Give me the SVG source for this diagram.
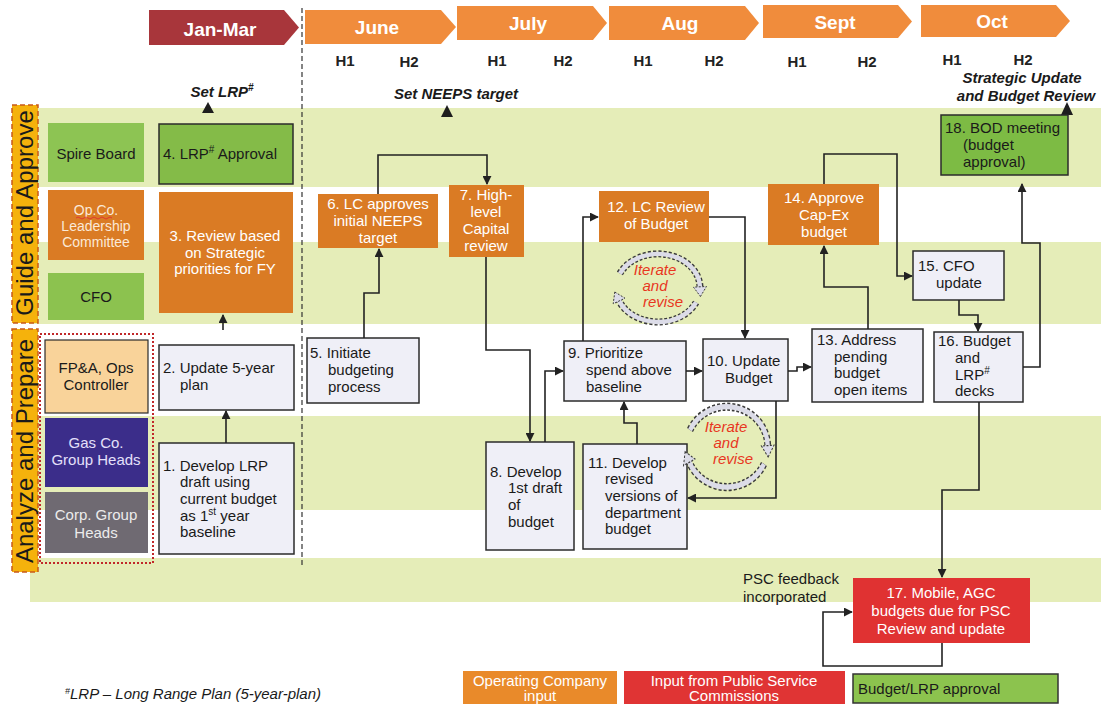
<svg xmlns="http://www.w3.org/2000/svg" width="1101" height="704" viewBox="0 0 1101 704">
<style>
.t{font-family:"Liberation Sans",Arial,sans-serif;font-size:15px;fill:#1a1a1a}
.w{fill:#ffffff}
.box{fill:#efeff7;stroke:#2b2b2b;stroke-width:1.5}
.org{fill:#da7b24}
.grn{fill:#8cc24e}
.band{fill:#e5edb8}
.lane{font-family:"Liberation Sans",Arial,sans-serif;font-size:24px;fill:#1a1a1a;text-anchor:middle}
.mon{font-family:"Liberation Sans",Arial,sans-serif;font-size:19px;font-weight:bold;fill:#fff;text-anchor:middle}
.h{font-family:"Liberation Sans",Arial,sans-serif;font-size:15px;font-weight:bold;fill:#222;text-anchor:middle}
.bi{font-family:"Liberation Sans",Arial,sans-serif;font-size:15px;font-weight:bold;font-style:italic;fill:#1a1a1a;text-anchor:middle}
.it{font-family:"Liberation Sans",Arial,sans-serif;font-size:15px;font-style:italic;fill:#e8361e;text-anchor:middle}
.foot{font-family:"Liberation Sans",Arial,sans-serif;font-size:15px;font-style:italic;fill:#1a1a1a}
.opc{font-family:"Liberation Sans",Arial,sans-serif;font-size:14px;fill:#fbe9d7;text-anchor:middle}
.mid{text-anchor:middle}
.conn path{fill:none;stroke:#222;stroke-width:1.6;marker-end:url(#ah)}
.tri{fill:#1e1e1e}
.iband1{fill:none;stroke:#3a3a3a;stroke-width:7;stroke-dasharray:3 2}
.iband2{fill:none;stroke:#dcdce8;stroke-width:4.4}
.ihead{fill:#dcdce8;stroke:#3a3a3a;stroke-width:1;stroke-dasharray:2 1.5}
</style>
<defs>
<marker id="ah" viewBox="0 0 10 10" refX="9" refY="5" markerWidth="9" markerHeight="9" markerUnits="userSpaceOnUse" orient="auto"><path d="M0,0 L10,5 L0,10 z" fill="#222"/></marker>
<g id="iter">
<path class="iband1" d="M-38.1,-14.4 A42,34 0 0,1 42,-1.2"/>
<path class="iband2" d="M-38.1,-14.4 A42,34 0 0,1 42,-1.2"/>
<polygon class="ihead" points="42.4,8.5 48.5,-1.5 35.5,-0.9"/>
<path class="iband1" d="M38.1,14.4 A42,34 0 0,1 -38.9,12.7"/>
<path class="iband2" d="M38.1,14.4 A42,34 0 0,1 -38.9,12.7"/>
<polygon class="ihead" points="-43.2,4 -33,10.2 -44.8,15.8"/>
</g>
</defs>
<rect width="1101" height="704" fill="#ffffff"/>
<g id="bands">
<rect class="band" x="30" y="108" width="1071" height="79"/>
<rect class="band" x="30" y="242" width="1071" height="82"/>
<rect class="band" x="30" y="416" width="1071" height="94"/>
<rect class="band" x="30" y="558" width="1071" height="44"/>
</g>
<g id="header">
<path d="M149,10 H284 L299,27.5 L284,45 H149 Z" fill="#a8363b"/>
<text class="mon" x="220" y="36">Jan-Mar</text>
<path d="M305,10 H441 L456,27 L441,44 H305 Z" fill="#f08c3c"/>
<text class="mon" x="377" y="34">June</text>
<path d="M457,6 H593 L607,23 L593,40 H457 Z" fill="#f08c3c"/>
<text class="mon" x="528" y="30">July</text>
<path d="M609,6 H745 L759,23 L745,40 H609 Z" fill="#f08c3c"/>
<text class="mon" x="680" y="30">Aug</text>
<path d="M763,5 H898 L912,21.5 L898,38 H763 Z" fill="#f08c3c"/>
<text class="mon" x="835" y="29">Sept</text>
<path d="M921,5 H1056 L1070,21 L1056,37 H921 Z" fill="#f08c3c"/>
<text class="mon" x="992" y="28">Oct</text>
<text class="h" x="345" y="66">H1</text><text class="h" x="409" y="67">H2</text>
<text class="h" x="497" y="66">H1</text><text class="h" x="563" y="66">H2</text>
<text class="h" x="643" y="66">H1</text><text class="h" x="714" y="66">H2</text>
<text class="h" x="797" y="67">H1</text><text class="h" x="867" y="67">H2</text>
<text class="h" x="952" y="65">H1</text><text class="h" x="1023" y="65">H2</text>
<line x1="302" y1="8" x2="302" y2="566" stroke="#333" stroke-width="1.2" stroke-dasharray="5 3"/>
</g>
<g id="milestones">
<text class="bi" x="222" y="97">Set LRP<tspan font-size="10" dy="-6">#</tspan></text>
<polygon class="tri" points="202,113 214,113 208,102"/>
<text class="bi" x="456" y="99">Set NEEPS target</text>
<polygon class="tri" points="441,117 453,117 447,105"/>
<text class="bi" x="1022" y="83">Strategic Update</text>
<text class="bi" x="1026" y="101">and Budget Review</text>
<polygon class="tri" points="1061,115 1073,115 1067,102"/>
</g>
<g id="lane-guide">
<rect x="12" y="105" width="26" height="218" fill="#f5b20c" stroke="#c85a1a" stroke-width="1.5" stroke-dasharray="5 3"/>
<text class="lane" transform="translate(33,213) rotate(-90)">Guide and Approve</text>
</g>
<g id="lane-analyze">
<rect x="12" y="329" width="26" height="243" fill="#f5b20c" stroke="#c85a1a" stroke-width="1.5" stroke-dasharray="5 3"/>
<text class="lane" transform="translate(33,451) rotate(-90)">Analyze and Prepare</text>
</g>
<g id="spire-board">
<rect x="48" y="123" width="96" height="59" fill="#8dc453"/>
<text class="t mid" x="96" y="159">Spire Board</text>
</g>
<g id="opco-lc">
<rect x="48" y="190" width="96" height="70" class="org"/>
<text class="opc" x="96" y="215">Op.Co.</text>
<path d="M76,218 q2,-2 4,0 t4,0 t4,0 t4,0 t4,0 t4,0 t4,0 t4,0 t4,0" fill="none" stroke="#e03030" stroke-width="0.9"/>
<text class="opc" x="96" y="231">Leadership</text>
<text class="opc" x="96" y="247">Committee</text>
</g>
<g id="cfo">
<rect x="48" y="273" width="96" height="47" fill="#8cc24f"/>
<text class="t mid" x="96" y="302">CFO</text>
</g>
<g id="prepare-actors">
<rect x="40" y="334" width="113" height="229" fill="none" stroke="#c0282a" stroke-width="2" stroke-dasharray="2 2"/>
<rect x="45" y="340" width="103" height="73" fill="#f9d39a" stroke="#2b2b2b" stroke-width="1.2"/>
<text class="t mid" x="96" y="373">FP&amp;A, Ops</text>
<text class="t mid" x="96" y="390">Controller</text>
<rect x="45" y="418" width="103" height="69" fill="#3b2d8a"/>
<text class="t mid" x="96" y="448" style="fill:#e4e0fa">Gas Co.</text>
<text class="t mid" x="96" y="465" style="fill:#e4e0fa">Group Heads</text>
<rect x="45" y="492" width="103" height="61" fill="#6f6a72"/>
<text class="t mid" x="96" y="520" style="fill:#ececec">Corp. Group</text>
<text class="t mid" x="96" y="538" style="fill:#ececec">Heads</text>
</g>
<g id="n4">
<rect x="159" y="124" width="134" height="60" fill="#84bb48" stroke="#2b2b2b" stroke-width="1.5"/>
<text class="t" x="163" y="159">4. LRP<tspan font-size="10" dy="-6">#</tspan><tspan dy="6"> Approval</tspan></text>
</g>
<g id="n3">
<rect x="159" y="192" width="134" height="121" class="org"/>
<text class="t mid w" x="225" y="241">3. Review based</text>
<text class="t mid w" x="225" y="258">on Strategic</text>
<text class="t mid w" x="225" y="274">priorities for FY</text>
</g>
<g id="n2">
<rect x="159" y="345" width="135" height="65" class="box"/>
<text class="t" x="163" y="373">2. Update 5-year</text>
<text class="t" x="180" y="390">plan</text>
</g>
<g id="n1">
<rect x="159" y="443" width="135" height="111" class="box"/>
<text class="t" x="163" y="471">1. Develop LRP</text>
<text class="t" x="180" y="487">draft using</text>
<text class="t" x="180" y="504">current budget</text>
<text class="t" x="180" y="521">as 1<tspan font-size="10" dy="-6">st</tspan><tspan dy="6"> year</tspan></text>
<text class="t" x="180" y="537">baseline</text>
</g>
<g id="n5">
<rect x="307" y="338" width="112" height="65" class="box"/>
<text class="t" x="310" y="358">5. Initiate</text>
<text class="t" x="328" y="375">budgeting</text>
<text class="t" x="328" y="392">process</text>
</g>
<g id="n6">
<rect x="318" y="194" width="120" height="54" class="org"/>
<text class="t mid w" x="378" y="209">6. LC approves</text>
<text class="t mid w" x="378" y="226">initial NEEPS</text>
<text class="t mid w" x="378" y="243">target</text>
</g>
<g id="n7">
<rect x="449" y="185" width="75" height="72" class="org"/>
<text class="t mid w" x="486" y="200">7. High-</text>
<text class="t mid w" x="486" y="217">level</text>
<text class="t mid w" x="486" y="234">Capital</text>
<text class="t mid w" x="486" y="251">review</text>
</g>
<g id="n8">
<rect x="486" y="442" width="88" height="108" class="box"/>
<text class="t" x="490" y="477">8. Develop</text>
<text class="t" x="508" y="493">1st draft</text>
<text class="t" x="508" y="510">of</text>
<text class="t" x="508" y="527">budget</text>
</g>
<g id="n9">
<rect x="564" y="341" width="122" height="60" class="box"/>
<text class="t" x="568" y="358">9. Prioritize</text>
<text class="t" x="586" y="375">spend above</text>
<text class="t" x="586" y="392">baseline</text>
</g>
<g id="n11">
<rect x="583" y="444" width="104" height="105" class="box"/>
<text class="t" x="588" y="468">11. Develop</text>
<text class="t" x="605" y="484">revised</text>
<text class="t" x="605" y="501">versions of</text>
<text class="t" x="605" y="518">department</text>
<text class="t" x="605" y="534">budget</text>
</g>
<g id="n12">
<rect x="599" y="191" width="110" height="51" class="org"/>
<text class="t mid w" x="656" y="212">12. LC Review</text>
<text class="t mid w" x="656" y="229">of Budget</text>
</g>
<g id="n10">
<rect x="703" y="339" width="85" height="62" class="box"/>
<text class="t" x="707" y="366">10. Update</text>
<text class="t" x="725" y="383">Budget</text>
</g>
<g id="n13">
<rect x="812" y="329" width="111" height="73" class="box"/>
<text class="t" x="817" y="345">13. Address</text>
<text class="t" x="834" y="362">pending</text>
<text class="t" x="834" y="378">budget</text>
<text class="t" x="834" y="395">open items</text>
</g>
<g id="n14">
<rect x="768" y="184" width="111" height="61" class="org"/>
<text class="t mid w" x="824" y="203">14. Approve</text>
<text class="t mid w" x="824" y="220">Cap-Ex</text>
<text class="t mid w" x="824" y="237">budget</text>
</g>
<g id="n15">
<rect x="913" y="251" width="91" height="49" class="box"/>
<text class="t" x="918" y="271">15. CFO</text>
<text class="t" x="936" y="288">update</text>
</g>
<g id="n16">
<rect x="934" y="332" width="89" height="70" class="box"/>
<text class="t" x="938" y="346">16. Budget</text>
<text class="t" x="955" y="363">and</text>
<text class="t" x="955" y="380">LRP<tspan font-size="10" dy="-6">#</tspan></text>
<text class="t" x="955" y="396">decks</text>
</g>
<g id="n18">
<rect x="941" y="115" width="127" height="60" fill="#7dbb44" stroke="#2b2b2b" stroke-width="1.5"/>
<text class="t" x="945" y="133">18. BOD meeting</text>
<text class="t" x="963" y="150">(budget</text>
<text class="t" x="963" y="167">approval)</text>
</g>
<g id="n17">
<rect x="853" y="578" width="177" height="65" fill="#e03232"/>
<text class="t mid w" x="941" y="598">17. Mobile, AGC</text>
<text class="t mid w" x="941" y="616">budgets due for PSC</text>
<text class="t mid w" x="941" y="634">Review and update</text>
</g>
<g id="psc-label">
<text class="t" x="743" y="584">PSC feedback</text>
<text class="t" x="743" y="602">incorporated</text>
</g>
<g id="iterate1">
<use href="#iter" transform="translate(658,288)"/>
<text class="it" x="655" y="275">Iterate</text>
<text class="it" x="655" y="291">and</text>
<text class="it" x="663" y="307">revise</text>
</g>
<g id="iterate2">
<use href="#iter" transform="translate(727,447) scale(0.97,1.18)"/>
<text class="it" x="726" y="432">Iterate</text>
<text class="it" x="726" y="448">and</text>
<text class="it" x="733" y="464">revise</text>
</g>
<g id="connectors" class="conn">
<path d="M226,443 V411"/>
<path d="M223,330 V315"/>
<path d="M364,338 V293 H379 V249"/>
<path d="M378,194 V155 H487 V184"/>
<path d="M486,257 V350 H530 V441"/>
<path d="M545,442 V371 H563"/>
<path d="M583,341 V217 H598"/>
<path d="M637,444 V423 H624 V402"/>
<path d="M686,371 H702"/>
<path d="M709,217 H745 V338"/>
<path d="M776,401 V498 H688"/>
<path d="M788,371 H797 V367 H811"/>
<path d="M868,329 V287 H824 V246"/>
<path d="M824,184 V154 H897 V276 H912"/>
<path d="M959,300 V315 H978 V331"/>
<path d="M1023,367 H1040 V243 H1022 V184"/>
<path d="M979,402 V490 H942 V577"/>
<path d="M942,643 V666 H823 V612 H852"/>
</g>
<g id="legend">
<rect x="463" y="671" width="154" height="33" fill="#e98a2a"/>
<text class="t mid w" x="540" y="686">Operating Company</text>
<text class="t mid w" x="540" y="701">input</text>
<rect x="624" y="671" width="221" height="33" fill="#e03434"/>
<text class="t mid w" x="734" y="686">Input from Public Service</text>
<text class="t mid w" x="734" y="701">Commissions</text>
<rect x="853" y="674" width="205" height="29" fill="#8cc34e" stroke="#333" stroke-width="1.5"/>
<text class="t" x="858" y="694">Budget/LRP approval</text>
</g>
<g id="footnote">
<text class="foot" x="65" y="699"><tspan font-size="9" dy="-5">#</tspan><tspan dy="5">LRP – Long Range Plan (5-year-plan)</tspan></text>
</g>
</svg>
